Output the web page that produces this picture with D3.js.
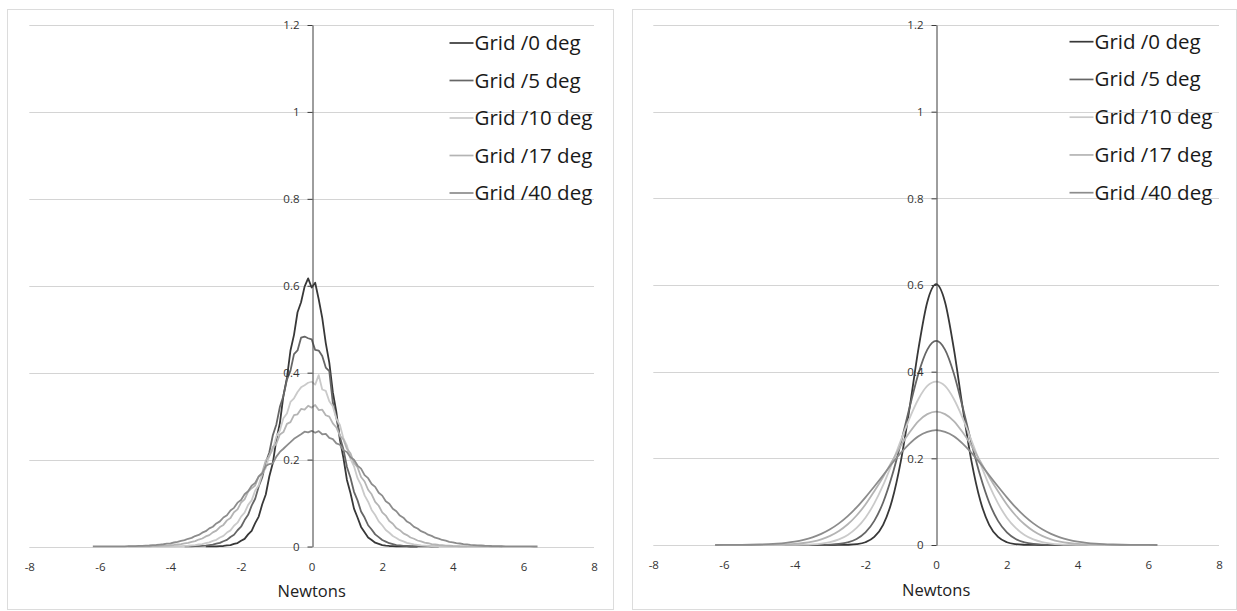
<!DOCTYPE html>
<html>
<head>
<meta charset="utf-8">
<script src="https://cdn.jsdelivr.net/npm/d3@7"></script>
<style>
  html, body { margin: 0; padding: 0; background: #fff; }
  svg { display: block; }
  text { font-family: "Open Sans", "DejaVu Sans", sans-serif; }
</style>
</head>
<body>
<svg id="chart" width="1237" height="611"></svg>
<script>
// ---- data -------------------------------------------------------------
const seriesNames = ["Grid /0 deg", "Grid /5 deg", "Grid /10 deg", "Grid /17 deg", "Grid /40 deg"];
const xTicks = [-8, -6, -4, -2, 0, 2, 4, 6, 8];
const yTicks = [0, 0.2, 0.4, 0.6, 0.8, 1, 1.2];
const xTitle = "Newtons";

// Measured force histograms, bins of 0.1 N, each series starting at its own first bin
const histStep = 0.1;
const histStarts = [-3.0, -3.6, -4.4, -5.2, -6.2];
const hist0 = [
  0.0001,0.0002,0.0003,0.0005,0.0009,0.0012,0.0024,0.0033,0.0058,0.0079,
  0.0131,0.0176,0.0279,0.0362,0.0538,0.0689,0.0971,0.1196,0.161,0.192,
  0.246,0.284,0.347,0.388,0.451,0.487,0.539,0.562,0.598,0.617,
  0.596,0.607,0.569,0.526,0.468,0.423,0.355,0.309,0.246,0.204,
  0.153,0.123,0.0871,0.0668,0.0451,0.0330,0.0209,0.0149,0.0088,0.0061,
  0.0034,0.0022,0.0012,0.0008,0.0004,0.0002,0.0001,0.0001,0,0,
  0];
const hist5 = [
  0.0002,0.0003,0.0004,0.0007,0.0009,0.0015,0.0020,0.0032,0.0041,0.0064,
  0.0082,0.0121,0.0152,0.0219,0.0270,0.0374,0.0455,0.0607,0.0728,0.0941,
  0.1098,0.1381,0.1587,0.1932,0.2163,0.2561,0.2809,0.3214,0.3462,0.3841,
  0.4046,0.4428,0.4512,0.4806,0.4831,0.4792,0.4768,0.4523,0.4509,0.4384,
  0.4117,0.4036,0.3312,0.2958,0.2522,0.2236,0.1831,0.1584,0.1259,0.1061,
  0.0806,0.0667,0.0489,0.0391,0.0279,0.0216,0.0149,0.0112,0.0075,0.0055,
  0.0034,0.0025,0.0015,0.0012,0.0006,0.0004,0.0003,0.0002,0.0001,0.0001,
  0,0,0];
const hist10 = [
  0.0001,0.0001,0.0002,0.0002,0.0004,0.0005,0.0008,0.0009,0.0014,0.0017,
  0.0026,0.0032,0.0046,0.0056,0.0079,0.0095,0.0130,0.0154,0.0207,0.0244,
  0.0320,0.0371,0.0478,0.0548,0.0688,0.0778,0.0958,0.1062,0.1288,0.1412,
  0.1672,0.1806,0.2092,0.2231,0.2531,0.2667,0.2952,0.3061,0.3326,0.3411,
  0.3556,0.3662,0.3712,0.3768,0.3791,0.3724,0.3942,0.3612,0.3581,0.3342,
  0.3226,0.2941,0.2797,0.2486,0.2319,0.2018,0.1846,0.1572,0.1412,0.1176,
  0.1031,0.0842,0.0724,0.0579,0.0489,0.0381,0.0316,0.0241,0.0197,0.0146,
  0.0117,0.0085,0.0067,0.0047,0.0037,0.0025,0.0020,0.0013,0.0010,0.0006,
  0.0005,0.0003,0.0002,0.0002,0.0001,0.0001,0,0,0];
const hist17 = [
  0.0001,0.0001,0.0002,0.0003,0.0004,0.0005,0.0006,0.0008,0.0011,0.0014,
  0.0018,0.0021,0.0029,0.0035,0.0046,0.0055,0.0072,0.0084,0.0108,0.0125,
  0.0160,0.0184,0.0231,0.0262,0.0326,0.0364,0.0447,0.0497,0.0601,0.0658,
  0.0788,0.0855,0.1008,0.1084,0.1262,0.1341,0.1404,0.1611,0.1702,0.1978,
  0.2078,0.2289,0.2364,0.2576,0.2634,0.2821,0.2863,0.3021,0.3042,0.3166,
  0.3152,0.3238,0.3196,0.3257,0.3139,0.3148,0.3021,0.2987,0.2834,0.2739,
  0.2551,0.2462,0.2248,0.2147,0.1921,0.1823,0.1598,0.1496,0.1306,0.1201,
  0.1027,0.0938,0.0786,0.0712,0.0587,0.0524,0.0424,0.0376,0.0301,0.0262,
  0.0207,0.0178,0.0138,0.0117,0.0089,0.0075,0.0056,0.0047,0.0035,0.0029,
  0.0020,0.0017,0.0011,0.0010,0.0006,0.0005,0.0004,0.0003,0.0002,0.0002,
  0.0001,0.0001,0.0001,0,0,0,0];
const hist40 = [
  0.0001,0.0001,0.0001,0.0001,0.0002,0.0002,0.0002,0.0003,0.0004,0.0005,
  0.0007,0.0008,0.0010,0.0014,0.0015,0.0021,0.0023,0.0030,0.0035,0.0045,
  0.0052,0.0065,0.0074,0.0092,0.0104,0.0129,0.0146,0.0178,0.0199,0.0241,
  0.0266,0.0319,0.0352,0.0417,0.0455,0.0531,0.0578,0.0667,0.0721,0.0829,
  0.0889,0.1009,0.1071,0.1203,0.1272,0.1401,0.1462,0.1612,0.1681,0.1852,
  0.1897,0.1913,0.2069,0.2176,0.2249,0.2328,0.2401,0.2478,0.2529,0.2581,
  0.2641,0.2627,0.2662,0.2618,0.2654,0.2582,0.2591,0.2498,0.2471,0.2372,
  0.2341,0.2216,0.2175,0.2052,0.1998,0.1862,0.1793,0.1641,0.1572,0.1438,
  0.1372,0.1238,0.1171,0.1042,0.0986,0.0869,0.0812,0.0711,0.0662,0.0574,
  0.0528,0.0452,0.0413,0.0352,0.0321,0.0271,0.0244,0.0202,0.0183,0.0150,
  0.0135,0.0108,0.0097,0.0078,0.0069,0.0055,0.0048,0.0037,0.0033,0.0026,
  0.0023,0.0017,0.0015,0.0011,0.0010,0.0008,0.0006,0.0005,0.0004,0.0003,
  0.0002,0.0002,0.0001,0.0001,0.0001,0,0];

// Fitted curves, sampled every 0.25 N from -6.25 N to 6.25 N
const fitStep = 0.25;
const fitStarts = [-6.25, -6.25, -6.25, -6.25, -6.25];
const fit0 = [
  0,0,0,0,0,0,0,0,0,0,0,0,0,0,
  0.0001,0.0005,0.0019,0.0064,0.0185,0.0466,0.102,0.193,0.317,0.453,0.561,
  0.602,
  0.561,0.453,0.317,0.193,0.102,0.0466,0.0185,0.0064,0.0019,0.0005,0.0001,
  0,0,0,0,0,0,0,0,0,0,0,0,0,0];
const fit5 = [
  0,0,0,0,0,0,0,0,0,0,0,
  0.0001,0.0003,0.0009,0.0024,0.006,0.0138,0.029,0.0557,0.098,0.159,0.235,0.318,0.396,0.451,
  0.471,
  0.451,0.396,0.318,0.235,0.159,0.098,0.0557,0.029,0.0138,0.006,0.0024,0.0009,0.0003,0.0001,
  0,0,0,0,0,0,0,0,0,0,0];
const fit10 = [
  0,0,0,0,0,0,0,0,
  0.0001,0.0003,0.0007,0.0016,0.0034,0.0068,0.0129,0.0231,0.0393,0.063,0.096,0.138,0.188,0.241,0.293,0.337,0.367,
  0.377,
  0.367,0.337,0.293,0.241,0.188,0.138,0.096,0.063,0.0393,0.0231,0.0129,0.0068,0.0034,0.0016,0.0007,0.0003,0.0001,
  0,0,0,0,0,0,0,0];
const fit17 = [
  0,0,0,0,0,
  0.0002,0.0004,0.0007,0.0014,0.0026,0.0046,0.008,0.0132,0.021,0.0323,0.0478,0.0681,0.0934,0.124,0.157,0.193,0.229,0.26,0.286,0.302,
  0.308,
  0.302,0.286,0.26,0.229,0.193,0.157,0.124,0.0934,0.0681,0.0478,0.0323,0.021,0.0132,0.008,0.0046,0.0026,0.0014,0.0007,0.0004,0.0002,
  0,0,0,0,0];
const fit40 = [
  0,
  0.0001,0.0002,0.0003,0.0006,0.0011,0.0018,0.003,0.0049,0.0077,0.0119,0.0177,0.0257,0.0363,0.0499,0.0667,0.0867,0.110,0.135,0.161,0.188,0.2125,0.234,0.251,0.261,
  0.265,
  0.261,0.251,0.234,0.2125,0.188,0.161,0.135,0.110,0.0867,0.0667,0.0499,0.0363,0.0257,0.0177,0.0119,0.0077,0.0049,0.003,0.0018,0.0011,0.0006,0.0003,0.0002,0.0001,
  0];

// ---- styling ------------------------------------------------------------
const seriesColors = ["#383838", "#666666", "#cacaca", "#b4b4b4", "#8c8c8c"];

const panels = [
  { frame: [7.5, 9.5, 613.5, 609.5], xRange: [29.3, 594], yRange: [546.5, 25],
    series: [hist0, hist5, hist10, hist17, hist40], starts: histStarts, step: histStep,
    curve: d3.curveLinear, legendX: 449.5, legendTop: 43, legendGap: 37.5, titleY: 597 },
  { frame: [632.5, 9.5, 1236.5, 609.5], xRange: [653.3, 1219], yRange: [545, 25],
    series: [fit0, fit5, fit10, fit17, fit40], starts: fitStarts, step: fitStep,
    curve: d3.curveMonotoneX, legendX: 1069.5, legendTop: 41.7, legendGap: 37.75, titleY: 596 }
];

const svg = d3.select("#chart");

panels.forEach(p => {
  const g = svg.append("g");
  const x = d3.scaleLinear().domain([-8, 8]).range(p.xRange);
  const y = d3.scaleLinear().domain([0, 1.2]).range(p.yRange);

  // chart frame
  g.append("rect")
    .attr("x", p.frame[0]).attr("y", p.frame[1])
    .attr("width", p.frame[2] - p.frame[0]).attr("height", p.frame[3] - p.frame[1])
    .attr("fill", "none").attr("stroke", "#dcdcdc").attr("stroke-width", 1);

  // horizontal gridlines
  g.append("g").selectAll("line").data(yTicks).join("line")
    .attr("x1", x(-8)).attr("x2", x(8))
    .attr("y1", d => Math.round(y(d)) + 0.5).attr("y2", d => Math.round(y(d)) + 0.5)
    .attr("stroke", "#d4d4d4").attr("stroke-width", 1);

  // x tick labels (no axis line; the zero gridline serves as baseline)
  const xAxis = g.append("g")
    .attr("transform", `translate(0,${y(0)})`)
    .call(d3.axisBottom(x).tickValues(xTicks).tickSize(0).tickPadding(16)
      .tickFormat(d => String(d)));
  xAxis.select(".domain").remove();
  xAxis.selectAll("text").attr("font-size", 11.5).attr("fill", "#333")
    .attr("font-family", "\"Open Sans\", sans-serif");

  // series lines
  const line = d3.line()
    .x(d => x(d[0])).y(d => y(d[1]))
    .curve(p.curve);
  p.series.forEach((vals, i) => {
    const pts = vals.map((v, k) => [+(p.starts[i] + k * p.step).toFixed(3), v]);
    g.append("path")
      .attr("d", line(pts))
      .attr("fill", "none")
      .attr("stroke", seriesColors[i])
      .attr("stroke-width", 1.8)
      .attr("stroke-linejoin", "round");
  });

  // vertical axis through x = 0
  const yAxis = g.append("g")
    .attr("transform", `translate(${Math.round(x(0)) + 0.5},0)`)
    .call(d3.axisLeft(y).tickValues(yTicks).tickSize(5).tickSizeOuter(0).tickPadding(8)
      .tickFormat(d => String(d)));
  yAxis.select(".domain").attr("stroke", "#3c3c3c");
  yAxis.selectAll(".tick line").attr("stroke", "#3c3c3c");
  yAxis.selectAll("text").attr("font-size", 11.5).attr("fill", "#333")
    .attr("font-family", "\"Open Sans\", sans-serif");

  // axis title
  g.append("text")
    .attr("x", x(0)).attr("y", p.titleY)
    .attr("text-anchor", "middle")
    .attr("font-size", 16.5).attr("fill", "#222")
    .text(xTitle);

  // legend
  const lg = g.append("g");
  seriesNames.forEach((name, i) => {
    const ry = p.legendTop + i * p.legendGap;
    lg.append("line")
      .attr("x1", p.legendX).attr("x2", p.legendX + 24)
      .attr("y1", ry).attr("y2", ry)
      .attr("stroke", seriesColors[i]).attr("stroke-width", 1.7);
    lg.append("text")
      .attr("x", p.legendX + 25).attr("y", ry + 7)
      .attr("font-size", 20.5).attr("fill", "#1a1a1a")
      .text(name);
  });
});
</script>
</body>
</html>
